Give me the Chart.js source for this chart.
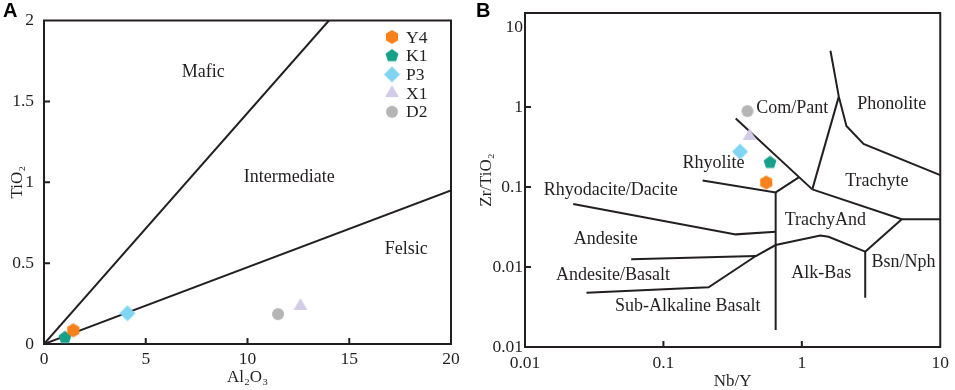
<!DOCTYPE html>
<html><head><meta charset="utf-8">
<script src="https://cdn.jsdelivr.net/npm/chart.js@4.4.1/dist/chart.umd.min.js"></script>
<style>
html,body{margin:0;padding:0;background:#fff;overflow:hidden}
#wrap{position:relative;width:955px;height:390px;background:#fff}
#ca{position:absolute;left:0;top:0}
#cb{position:absolute;left:475px;top:0}
</style></head><body>
<div id="wrap"><canvas id="ca" width="470" height="390"></canvas><canvas id="cb" width="480" height="390"></canvas></div>
<script>
// ---- sample data ----
const samples = ['Y4','K1','P3','X1','D2'];
const sampleColors = ['#f7821b','#16a08a','#80d5f3','#d3cce9','#b5b5b5'];
const sampleShapes = ['hexagon','pentagon','diamond','triangle','circle'];
const al2o3 = [1.44, 1.03, 4.1, 12.6, 11.5];
const tio2 = [0.085, 0.04, 0.19, 0.235, 0.185];
const nbY = [0.553, 0.589, 0.358, 0.419, 0.405];
const zrTiO2 = [0.114, 0.203, 0.277, 0.434, 0.89];

// ---- panel A ticks / boundaries / labels ----
const xTicksA = [0, 5, 10, 15, 20];
const xTickLabelsA = ['0','5','10','15','20'];
const yTicksA = [0, 0.5, 1, 1.5, 2];
const yTickLabelsA = ['0','0.5','1','1.5','2'];
const maficLine = [[0,0],[14,2]];
const felsicLine = [[0,0],[20,0.95]];
const fieldNamesA = ['Mafic','Intermediate','Felsic'];
const fieldXA = [7.83, 12.05, 17.8];
const fieldYA = [1.68, 1.03, 0.584];

// ---- panel B ticks / boundaries / labels ----
const xTicksB = [0.01, 0.1, 1, 10];
const xTickLabelsB = ['0.01','0.1','1','10'];
const yTicksB = [0.001, 0.01, 0.1, 1, 10];
const yTickLabelsB = ['0.01','0.01','0.1','1','10'];
const comPantLine = [[0.333,0.72],[1.19,0.0935]];
const rhyoliteLine = [[0.192,0.121],[0.647,0.0857],[0.95,0.132]];
const alkaliDivide = [[0.647,0.0857],[0.647,0.00163]];
const phonoTrachyLine = [[1.19,0.0935],[1.85,1.35]];
const phonoTopLine = [[1.61,5.06],[1.85,1.35],[2.10,0.579],[2.79,0.345],[10,0.141]];
const trachyAndLine = [[1.19,0.0935],[5.27,0.0395],[10,0.0395]];
const bsnNphLine = [[5.27,0.0395],[2.87,0.01556],[2.87,0.00414]];
const andesiteLine = [[0.0223,0.0613],[0.333,0.0256],[0.647,0.0277]];
const andBasLine = [[0.0585,0.01248],[0.465,0.01372]];
const basaltLine = [[0.0278,0.00478],[0.212,0.00557],[0.465,0.01372],[0.647,0.01884],[1.36,0.0247],[1.56,0.0239],[2.87,0.01556]];
const fieldNamesB = ['Com/Pant','Phonolite','Rhyolite','Trachyte','Rhyodacite/Dacite','TrachyAnd','Andesite','Bsn/Nph','Andesite/Basalt','Alk-Bas','Sub-Alkaline Basalt'];
const fieldXB = [0.851, 4.47, 0.230, 3.48, 0.0416, 1.48, 0.0383, 5.42, 0.0432, 1.38, 0.150];
const fieldYB = [0.96, 1.09, 0.198, 0.117, 0.0917, 0.0387, 0.0222, 0.01143, 0.00794, 0.00834, 0.00325];

const INK = '#231f20';
const SERIF = "'Liberation Serif', 'Times New Roman', serif";
Chart.defaults.font.family = SERIF;
Chart.defaults.color = INK;

const shapeRadius = {hexagon:7, pentagon:6.8, diamond:8, triangle:8, circle:6};
function drawShape(ctx, shape, cx, cy, r){
  ctx.beginPath();
  if (shape === 'circle') { ctx.arc(cx, cy, r, 0, Math.PI*2); }
  else {
    const n = {hexagon:6, pentagon:5, diamond:4, triangle:3}[shape];
    for (let k = 0; k < n; k++) {
      const a = -Math.PI/2 + k*2*Math.PI/n;
      const px = cx + r*Math.cos(a), py = cy + r*Math.sin(a);
      if (k) ctx.lineTo(px, py); else ctx.moveTo(px, py);
    }
    ctx.closePath();
  }
  ctx.fill();
}
function makeIcon(shape, color){
  const r = shapeRadius[shape];
  const s = Math.ceil(2*r + 2);
  const c = document.createElement('canvas');
  c.width = s; c.height = s;
  const g = c.getContext('2d');
  g.fillStyle = color;
  drawShape(g, shape, s/2, s/2, r);
  return c;
}
const icons = samples.map((s,i) => makeIcon(sampleShapes[i], sampleColors[i]));

function pointDatasets(xs, ys){
  return samples.map((s,i) => ({
    label: s, data: [{x: xs[i], y: ys[i]}], pointStyle: icons[i],
    backgroundColor: sampleColors[i], showLine: false, order: 0
  }));
}
function lineDs(pairs){
  return {label: '', data: pairs.map(p => ({x: p[0], y: p[1]})), showLine: true,
    pointRadius: 0, borderColor: INK, borderWidth: 2, fill: false, order: 1,
    borderJoinStyle: 'miter'};
}

const framePlugin = {
  id: 'frame',
  beforeDatasetsDraw(chart, args, opts){
    const {ctx, chartArea: a} = chart;
    ctx.save();
    ctx.strokeStyle = INK; ctx.lineWidth = 2;
    ctx.strokeRect(a.left, a.top, a.right - a.left, a.bottom - a.top);
    ctx.beginPath();
    (opts.xMarks || []).forEach(v => { const p = chart.scales.x.getPixelForValue(v); ctx.moveTo(p, a.bottom); ctx.lineTo(p, a.bottom - 6); });
    (opts.yMarks || []).forEach(v => { const p = chart.scales.y.getPixelForValue(v); ctx.moveTo(a.left, p); ctx.lineTo(a.left + 6, p); });
    ctx.stroke();
    ctx.restore();
  },
  afterDatasetsDraw(chart, args, opts){
    const ctx = chart.ctx;
    ctx.save();
    ctx.fillStyle = INK;
    ctx.font = '18px ' + SERIF;
    ctx.textAlign = 'center'; ctx.textBaseline = 'middle';
    (opts.names || []).forEach((n, i) => {
      ctx.fillText(n, chart.scales.x.getPixelForValue(opts.xs[i]), chart.scales.y.getPixelForValue(opts.ys[i]));
    });
    if (opts.legend) {
      const L = opts.legend;
      ctx.textAlign = 'left';
      ctx.font = '17.5px ' + SERIF;
      samples.forEach((s, i) => {
        const y = L.y + i * L.dy;
        ctx.drawImage(icons[i], L.x - icons[i].width/2, y - icons[i].height/2);
        ctx.fillStyle = INK;
        ctx.fillText(s, L.tx, y + 1);
      });
    }
    ctx.font = 'bold 20px "Liberation Sans", Arial, sans-serif';
    ctx.textAlign = 'left'; ctx.textBaseline = 'top';
    ctx.fillStyle = '#000';
    ctx.fillText(opts.panel, opts.panelX, 1);
    ctx.restore();
  }
};

function baseScale(){
  return {
    grid: {display: false, drawTicks: false},
    border: {display: false},
  };
}

new Chart(document.getElementById('ca'), {
  type: 'scatter',
  data: {datasets: [...pointDatasets(al2o3, tio2), lineDs(maficLine), lineDs(felsicLine)]},
  options: {
    responsive: false, animation: false, devicePixelRatio: 1,
    layout: {padding: {left: 0, right: 19, top: 13, bottom: 0}},
    plugins: {
      legend: {display: false}, tooltip: {enabled: false},
      frame: {xMarks: [5,10,15], yMarks: [0.5,1,1.5], names: fieldNamesA, xs: fieldXA, ys: fieldYA,
        legend: {x: 392, y: 37, dy: 18.7, tx: 406}, panel: 'A', panelX: 3}
    },
    scales: {
      x: Object.assign(baseScale(), {
        type: 'linear', min: 0, max: 20,
        afterBuildTicks(s){ s.ticks = xTicksA.map(v => ({value: v})); },
        afterFit(s){ s.height = 46; },
        ticks: {padding: 5, font: {size: 17.5}, color: INK, maxRotation: 0, callback: (v, i) => xTickLabelsA[i]},
        title: {display: true, text: 'Al₂O₃', color: INK, font: {size: 17}, padding: 2}
      }),
      y: Object.assign(baseScale(), {
        type: 'linear', min: 0, max: 2,
        afterBuildTicks(s){ s.ticks = yTicksA.map(v => ({value: v})); },
        afterFit(s){ s.width = 44; },
        ticks: {padding: 10, font: {size: 17.5}, color: INK, callback: (v, i) => yTickLabelsA[i]},
        title: {display: true, text: 'TiO₂', color: INK, font: {size: 17}, padding: 7}
      })
    }
  },
  plugins: [framePlugin]
});

new Chart(document.getElementById('cb'), {
  type: 'scatter',
  data: {datasets: [...pointDatasets(nbY, zrTiO2), lineDs(comPantLine), lineDs(rhyoliteLine), lineDs(alkaliDivide),
    lineDs(phonoTrachyLine), lineDs(phonoTopLine), lineDs(trachyAndLine), lineDs(bsnNphLine),
    lineDs(andesiteLine), lineDs(andBasLine), lineDs(basaltLine)]},
  options: {
    responsive: false, animation: false, devicePixelRatio: 1,
    layout: {padding: {left: 0, right: 13, top: 13, bottom: 0}},
    plugins: {
      legend: {display: false}, tooltip: {enabled: false},
      frame: {xMarks: [0.1, 1], yMarks: [0.01, 0.1, 1], names: fieldNamesB, xs: fieldXB, ys: fieldYB,
        panel: 'B', panelX: 1}
    },
    scales: {
      x: Object.assign(baseScale(), {
        type: 'logarithmic', min: 0.01, max: 10,
        afterBuildTicks(s){ s.ticks = xTicksB.map(v => ({value: v})); },
        afterFit(s){ s.height = 43; },
        ticks: {padding: 6, font: {size: 17.5}, color: INK, maxRotation: 0, autoSkip: false, callback: (v, i) => xTickLabelsB[i]},
        title: {display: true, text: 'Nb/Y', color: INK, font: {size: 17, lineHeight: 1}, padding: 0}
      }),
      y: Object.assign(baseScale(), {
        type: 'logarithmic', min: 0.001, max: 15,
        afterBuildTicks(s){ s.ticks = yTicksB.map(v => ({value: v})); },
        afterFit(s){ s.width = 50; },
        ticks: {padding: 2, font: {size: 17.5}, color: INK, autoSkip: false, callback: (v, i) => yTickLabelsB[i]},
        title: {display: true, text: 'Zr/TiO₂', color: INK, font: {size: 17, lineHeight: 1}, padding: 3}
      })
    }
  },
  plugins: [framePlugin]
});
</script>
</body></html>
